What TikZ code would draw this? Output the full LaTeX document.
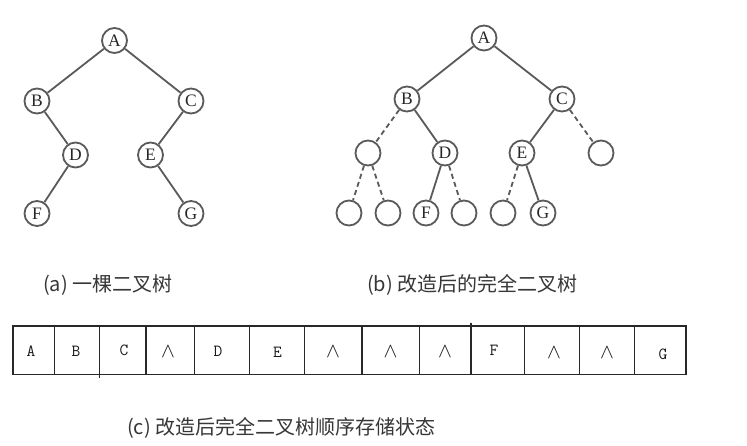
\documentclass[tikz,border=0pt]{standalone}
\usepackage{fontspec}
\setmainfont{Liberation Serif}
\newfontfamily\cjkfont{Noto Sans CJK SC}
\definecolor{treeline}{RGB}{90,90,90}
\definecolor{captext}{RGB}{55,55,55}
\definecolor{tabline}{RGB}{40,40,40}
\tikzset{
  tnode/.style={circle, draw=treeline, line width=1.8pt, minimum size=25pt, inner sep=0pt,
    font=\fontsize{17.5}{17.5}\selectfont, text=black!85},
  tedge/.style={draw=treeline, line width=1.8pt},
  dedge/.style={draw=treeline, line width=1.8pt, dash pattern=on 5pt off 3.5pt},
  caption/.style={anchor=west, inner sep=0pt, text=captext, font=\cjkfont\fontsize{20}{20}\selectfont},
  cell/.style={inner sep=0pt, font=\ttfamily\fontsize{17}{17}\selectfont, text=black!90},
  wedgecell/.style={inner sep=0pt, font=\fontsize{20}{20}\selectfont, text=black!90},
  tabrule/.style={draw=tabline, line width=1.6pt},
}
\begin{document}
\begin{tikzpicture}[x=1pt, y=-1pt]
\useasboundingbox[fill=white] (0,0) rectangle (747,445);
% ---- tree (a)
\node[tnode] (aA) at (114.5,40.5) {A};
\node[tnode] (aB) at (37,101) {B};
\node[tnode] (aC) at (191,101) {C};
\node[tnode] (aD) at (75.5,155) {D};
\node[tnode] (aE) at (150.5,155) {E};
\node[tnode] (aF) at (37,213.5) {F};
\node[tnode] (aG) at (191,213.5) {G};
\draw[tedge] (aA) -- (aB);
\draw[tedge] (aA) -- (aC);
\draw[tedge] (aB) -- (aD);
\draw[tedge] (aC) -- (aE);
\draw[tedge] (aD) -- (aF);
\draw[tedge] (aE) -- (aG);
% ---- tree (b)
\node[tnode] (bA) at (484,38) {A};
\node[tnode] (bB) at (407,99) {B};
\node[tnode] (bC) at (562,99) {C};
\node[tnode] (bN1) at (368,153) {};
\node[tnode] (bD) at (445,153) {D};
\node[tnode] (bE) at (522,153) {E};
\node[tnode] (bN2) at (601,153) {};
\node[tnode] (bL1) at (349,213) {};
\node[tnode] (bL2) at (388,213) {};
\node[tnode] (bF) at (426,213) {F};
\node[tnode] (bL3) at (464,213) {};
\node[tnode] (bL4) at (503,213) {};
\node[tnode] (bG) at (543,213) {G};
\draw[tedge] (bA) -- (bB);
\draw[tedge] (bA) -- (bC);
\draw[dedge] (bB) -- (bN1);
\draw[tedge] (bB) -- (bD);
\draw[tedge] (bC) -- (bE);
\draw[dedge] (bC) -- (bN2);
\draw[dedge] (bN1) -- (bL1);
\draw[dedge] (bN1) -- (bL2);
\draw[tedge] (bD) -- (bF);
\draw[dedge] (bD) -- (bL3);
\draw[dedge] (bE) -- (bL4);
\draw[tedge] (bE) -- (bG);
% ---- captions
\node[caption] (capa) at (43,285) {(a) 一棵二叉树};
\node[caption] (capb) at (367,285) {(b) 改造后的完全二叉树};
\node[caption] (capc) at (127,428) {(c) 改造后完全二叉树顺序存储状态};
% ---- table
\draw[tabrule] (12.7,325.7) rectangle (686,374.3);
\foreach \x in {54.3,145.7,194.3,249.3,304.3,361.7,419.3,524.3,579.3,634.3}
  \draw[tabrule] (\x,325.7) -- (\x,374.3);
\draw[tabrule] (99.3,325.7) -- (99.3,378);
\draw[tabrule] (470.7,322.5) -- (470.7,374.3);
\node[cell] (c1) at (31,351.5) {A};
\node[cell] (c2) at (76,351.5) {B};
\node[cell] (c3) at (124,350) {C};
\node[wedgecell] (c4) at (168,352) {$\wedge$};
\node[cell] (c5) at (218,351.5) {D};
\node[cell] (c6) at (277.5,352) {E};
\node[wedgecell] (c7) at (333,352) {$\wedge$};
\node[wedgecell] (c8) at (390.5,352) {$\wedge$};
\node[wedgecell] (c9) at (445,352) {$\wedge$};
\node[cell] (c10) at (494,350.5) {F};
\node[wedgecell] (c11) at (554,353) {$\wedge$};
\node[wedgecell] (c12) at (607,353) {$\wedge$};
\node[cell] (c13) at (663,354) {G};
\end{tikzpicture}
\end{document}
